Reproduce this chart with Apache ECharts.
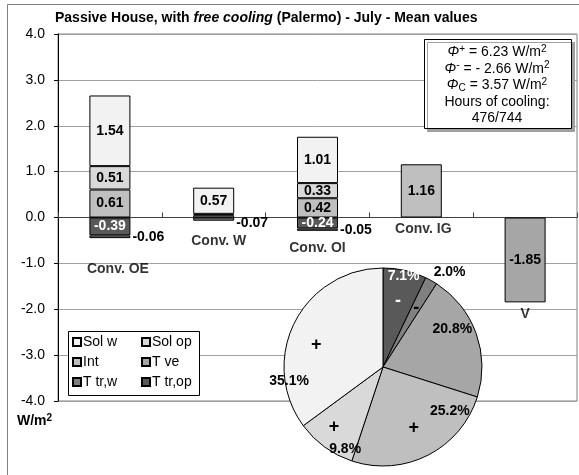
<!DOCTYPE html>
<html>
<head>
<meta charset="utf-8">
<title>Passive House - free cooling - Palermo July</title>
<script src="https://cdn.jsdelivr.net/npm/echarts@6/dist/echarts.min.js"></script>
<style>
html, body { margin: 0; padding: 0; background: #fff; }
#main { width: 579px; height: 475px; }
</style>
</head>
<body>
<div id="main"></div>
<script>
// values (W/m2)
var categories = ['Conv. OE', 'Conv. W', 'Conv. OI', 'Conv. IG', 'V'];
var solW  = [1.54, 0.57, 1.01, null, null];
var solOp = [0.51, 0.03, 0.33, null, null];
var intG  = [0.61, 0.05, 0.42, 1.16, null];
var tVe   = [null, null, null, null, -1.85];
var tTrOp = [-0.39, null, -0.24, null, null];
var tTrW  = [-0.06, -0.07, -0.05, null, null];

// pie shares, clockwise from 12 o'clock
var pieNames = ['T tr,op', 'T tr,w', 'T ve', 'Int', 'Sol op', 'Sol w'];
var piePct   = [7.1, 2.0, 20.8, 25.2, 9.8, 35.1];
var pieSign  = ['-', '-', '-', '+', '+', '+'];

var yMin = -4, yMax = 4, yStep = 1;

var FONT = "'Liberation Sans', Arial, sans-serif";
var FS = 14;
var colors = {
    'Sol w': '#f2f2f2', 'Sol op': '#d9d9d9', 'Int': '#bfbfbf',
    'T ve': '#a6a6a6', 'T tr,w': '#808080', 'T tr,op': '#595959'
};

function barSeries(name, values, extraLabel, nudges) {
    var label = {
        show: true, position: 'inside',
        fontFamily: FONT, fontSize: FS, fontWeight: 'bold', color: '#000',
        formatter: function (p) { return Math.abs(p.value) < 0.1 ? '' : p.value.toFixed(2); }
    };
    for (var k in extraLabel) label[k] = extraLabel[k];
    return {
        name: name, type: 'bar', stack: 'flux', barWidth: 41,
        data: values.map(function (v, i) {
            return nudges && nudges[i] ? { value: v, label: { offset: nudges[i] } } : v;
        }),
        itemStyle: { color: colors[name], borderColor: '#000', borderWidth: 1 },
        label: label,
        emphasis: { disabled: true }
    };
}

// lowest point of each column, category names hang below it
var colBottom = categories.map(function (c, i) {
    return [tTrOp[i], tTrW[i], tVe[i]].reduce(function (s, v) { return s + (v || 0); }, 0);
});
var catNudge = [[8, 19], [5, 8], [0, 5], [2, 0], [0, 0]];

var pctNudge = [[9, -40], [41, -49], [20, -20], [43, -3], [-7, 40], [-47, 38]];
var signNudge = [[0, 0], [0, 0], [0, 0], [0, 0], [-9, 5], [-6, 9]];

var myChart = echarts.init(document.getElementById('main'));

var option = {
    animation: false,
    title: {
        left: 55, top: 11, padding: 0,
        text: '{b|Passive House, with }{bi|free cooling}{b| (Palermo) - July - Mean values}',
        textStyle: {
            rich: {
                b: { fontFamily: FONT, fontSize: FS, fontWeight: 'bold', color: '#000' },
                bi: { fontFamily: FONT, fontSize: FS, fontWeight: 'bold', fontStyle: 'italic', color: '#000' }
            }
        }
    },
    legend: [
        {
            data: ['Sol w', 'Int', 'T tr,w'], orient: 'vertical', left: 72, top: 335,
            itemWidth: 8, itemHeight: 8, itemGap: 6, padding: 0, icon: 'rect', selectedMode: false,
            textStyle: { fontFamily: FONT, fontSize: FS, color: '#000', padding: [0, 0, 0, -3] }
        },
        {
            data: ['Sol op', 'T ve', 'T tr,op'], orient: 'vertical', left: 141, top: 335,
            itemWidth: 8, itemHeight: 8, itemGap: 6, padding: 0, icon: 'rect', selectedMode: false,
            textStyle: { fontFamily: FONT, fontSize: FS, color: '#000', padding: [0, 0, 0, -3] }
        }
    ],
    grid: {
        left: 58, right: 2, top: 34, bottom: 74,
        show: true, borderColor: '#808080', borderWidth: 1
    },
    xAxis: {
        type: 'category', data: categories,
        axisLine: { onZero: true, lineStyle: { color: '#404040' } },
        axisTick: { show: true, inside: true, length: 5, lineStyle: { color: '#404040' } },
        axisLabel: { show: false },
        splitLine: { show: false }
    },
    yAxis: {
        type: 'value', min: yMin, max: yMax, interval: yStep,
        axisLine: { show: true, lineStyle: { color: '#000' } },
        axisTick: { show: true, length: 4, lineStyle: { color: '#000' } },
        axisLabel: {
            margin: 13, fontFamily: FONT, fontSize: FS, color: '#000',
            formatter: function (v) { return v.toFixed(1); }
        },
        splitLine: { lineStyle: { color: '#a0a0a0' } }
    },
    series: [
        barSeries('Int', intG),
        barSeries('Sol op', solOp),
        barSeries('Sol w', solW),
        barSeries('T tr,op', tTrOp, { color: '#fff' }),
        barSeries('T tr,w', tTrW, {
            position: 'right', distance: 2,
            formatter: function (p) { return p.value.toFixed(2); }
        }, [null, [0, 4], null]),
        barSeries('T ve', tVe),
        {
            type: 'scatter', symbolSize: 0, silent: true,
            data: categories.map(function (c, i) {
                return { value: [i, colBottom[i]], label: { offset: catNudge[i] } };
            }),
            label: {
                show: true, position: 'bottom', distance: 5,
                fontFamily: FONT, fontSize: FS, fontWeight: 'bold', color: '#000',
                formatter: function (p) { return categories[p.dataIndex]; }
            }
        },
        {
            type: 'pie', center: [383, 367], radius: 99, startAngle: 90, clockwise: true,
            avoidLabelOverlap: false, silent: true, z: 5,
            data: pieNames.map(function (n, i) {
                return {
                    name: n, value: piePct[i],
                    itemStyle: { color: colors[n] },
                    label: { offset: pctNudge[i], color: i === 0 ? '#fff' : '#000' }
                };
            }),
            itemStyle: { borderColor: '#000', borderWidth: 1 },
            label: {
                show: true, position: 'inside',
                fontFamily: FONT, fontSize: FS, fontWeight: 'bold',
                formatter: function (p) { return p.value.toFixed(1) + '%'; }
            },
            labelLine: { show: false }
        },
        {
            type: 'pie', center: [383, 367], radius: [31, 99], startAngle: 90, clockwise: true,
            avoidLabelOverlap: false, silent: true, z: 6,
            data: pieNames.map(function (n, i) {
                return {
                    name: n, value: piePct[i],
                    label: { offset: signNudge[i], color: i === 0 ? '#fff' : '#000' }
                };
            }),
            itemStyle: { color: 'rgba(0,0,0,0)', borderWidth: 0 },
            label: {
                show: true, position: 'inside',
                fontFamily: FONT, fontSize: 18, fontWeight: 'bold',
                formatter: function (p) { return pieSign[p.dataIndex]; }
            },
            labelLine: { show: false }
        }
    ],
    graphic: [
        {
            type: 'rect', z: 1, silent: true,
            shape: { x: 7.5, y: 4.5, width: 600, height: 500 },
            style: { fill: 'none', stroke: '#808080', lineWidth: 1 }
        },
        {
            type: 'rect', z: 3, silent: true,
            shape: { x: 68.5, y: 331.5, width: 131, height: 64 },
            style: { fill: '#fff', stroke: '#000', lineWidth: 1 }
        },
        {
            type: 'rect', z: 10, silent: true,
            shape: { x: 424.5, y: 39.5, width: 147, height: 89 },
            style: {
                fill: '#fff', stroke: '#000', lineWidth: 1,
                shadowColor: '#a0a0a0', shadowOffsetX: 3, shadowOffsetY: 3, shadowBlur: 0
            }
        },
        {
            type: 'text', z: 11, silent: true, x: 497, y: 44,
            style: {
                text: [
                    '{phi|Φ}{sup|+}{n| = 6.23 W/m}{sup|2}',
                    '{phi|Φ}{sup|-}{n| = - 2.66 W/m}{sup|2}',
                    '{phi|Φ}{sub|C}{n| = 3.57 W/m}{sup|2}',
                    '{n|Hours of cooling:}',
                    '{n|476/744}'
                ].join('\n'),
                align: 'center', verticalAlign: 'top', fill: '#000',
                rich: {
                    n: { fontFamily: FONT, fontSize: FS, lineHeight: 16.5, color: '#000' },
                    phi: { fontFamily: FONT, fontSize: FS, lineHeight: 16.5, fontStyle: 'italic', color: '#000' },
                    sup: { fontFamily: FONT, fontSize: 10, lineHeight: 10, verticalAlign: 'top', color: '#000' },
                    sub: { fontFamily: FONT, fontSize: 10, lineHeight: 10, verticalAlign: 'bottom', color: '#000' }
                }
            }
        },
        {
            type: 'text', z: 11, silent: true, x: 17, y: 413,
            style: {
                text: '{b|W/m}{s|2}',
                rich: {
                    b: { fontFamily: FONT, fontSize: FS, fontWeight: 'bold', lineHeight: 16, color: '#000' },
                    s: { fontFamily: FONT, fontSize: 10, fontWeight: 'bold', lineHeight: 10, verticalAlign: 'top', color: '#000' }
                }
            }
        }
    ]
};

myChart.setOption(option);
</script>
</body>
</html>
